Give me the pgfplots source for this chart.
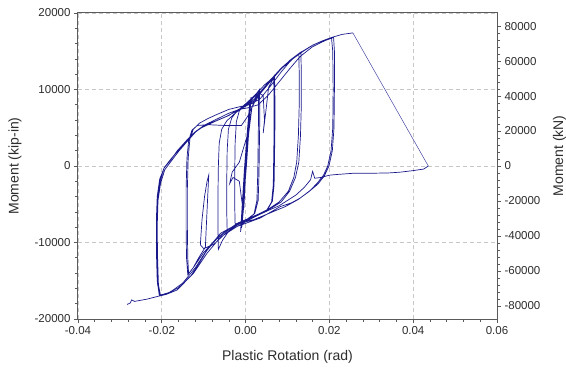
\documentclass[border=0pt]{standalone}
\usepackage{fontspec}
\setmainfont{Liberation Sans}
\usepackage{pgfplots}
\pgfplotsset{compat=1.18}
\definecolor{curve}{RGB}{25,25,140}
\definecolor{axisgray}{RGB}{90,90,90}
\definecolor{txt}{RGB}{45,45,45}
\definecolor{gridc}{RGB}{200,200,200}
\pgfplotsset{
  common/.style={
    scale only axis, width=419pt, height=306pt,
    xmin=-0.04, xmax=0.06,
    tick align=outside,
    major tick length=4pt, minor tick length=3pt,
    axis line style={axisgray, line width=1pt},
    every tick/.style={axisgray, line width=0.6pt},
    tick label style={font=\fontsize{11.5}{13}\selectfont, text=txt},
    label style={font=\fontsize{14}{16}\selectfont, text=txt},
    /pgf/number format/assume math mode=true,
    scaled x ticks=false, scaled y ticks=false,
    yticklabel style={/pgf/number format/1000 sep={}},
  }
}
\begin{document}
\begin{tikzpicture}
\begin{axis}[common,
  name=main,
  ymin=-20000, ymax=20000,
  xtick={-0.04,-0.02,0,0.02,0.04,0.06},
  ytick={-20000,-10000,0,10000,20000},
  minor x tick num=4, minor y tick num=4,
  xtick pos=bottom, ytick pos=left,
  grid=major,
  major grid style={gridc, dash pattern=on 4pt off 3pt, line width=0.6pt},
  xticklabel style={/pgf/number format/fixed, /pgf/number format/fixed zerofill, /pgf/number format/precision=2},
  xlabel={Plastic Rotation (rad)},
  ylabel={Moment (kip-in)},
  xlabel style={at={(axis description cs:0.5,-0.124)}, anchor=center},
  ylabel style={at={(axis description cs:-0.1504,0.5)}, anchor=center},
]
\addplot[curve, line width=0.7pt] coordinates {
(0,0) (0.0003,3000) (-0.0002,-3000) (0.0003,3200) (-0.0002,-3100)
(0.0006,5500) (-0.0004,-5500) (0.0006,5600) (-0.0005,-5600)
(-0.0009,-8000) (-0.0004,-4000) (0.0002,0) (0.0007,4000) (0.0011,8600)
(0.0006,5000) (0.0000,1000) (-0.0005,-3500) (-0.0010,-8100)
(-0.0006,-4500) (0.0001,0) (0.0007,4500) (0.0012,8800)
(0.0004,4000) (-0.0015,500) (-0.0032,-800) (-0.0038,-2300) (-0.0030,-1500) (-0.0015,-2000) (-0.0008,-5000) (-0.0010,-8000)
(-0.0005,-4000) (0.0003,1000) (0.0009,5500) (0.0013,9000)
(0.0007,5000) (-0.0001,0) (-0.0006,-4500) (-0.0012,-8600)
(-0.0007,-4000) (0.0000,500) (0.0006,5000) (0.0010,8400)
(0.0004,4500) (-0.0003,-500) (-0.0008,-5000) (-0.0011,-8300)
(-0.0007,-4000) (0.0000,0)
(0.0008,4500) (0.0015,7600) (0.0022,8800) (0.0031,9800)
(0.0031,7000) (0.0030,3000) (0.0029,-1000) (0.0027,-4500) (0.0020,-6300) (0.0005,-6900) (-0.0010,-7300) (-0.0025,-7700) (-0.0044,-8400)
(-0.0045,-6000) (-0.0045,-2000) (-0.0044,2000) (-0.0041,4800) (-0.0033,6300) (-0.0020,7200) (-0.0005,7900) (0.0012,8700) (0.0025,9400) (0.0033,10000)
(0.0034,7000) (0.0033,3000) (0.0032,-1000) (0.0030,-4500) (0.0022,-6200) (0.0005,-6900) (-0.0012,-7300) (-0.0025,-7600)
(-0.0026,-5000) (-0.0026,-1000) (-0.0025,3000) (-0.0022,5800) (-0.0015,7200) (0.0000,8100) (0.0015,8900)
(0.0030,9700) (0.0045,10600) (0.0058,11200) (0.0067,11700)
(0.0068,9000) (0.0068,5000) (0.0067,1000) (0.0066,-2500) (0.0062,-4700) (0.0050,-5800) (0.0030,-6400) (0.0005,-7000) (-0.0020,-7700) (-0.0040,-8500) (-0.0055,-9700) (-0.0065,-10900)
(-0.0066,-8000) (-0.0066,-4000) (-0.0065,0) (-0.0063,3000) (-0.0057,4800) (-0.0045,5900) (-0.0025,6900) (-0.0005,7700) (0.0015,8700) (0.0030,9600) (0.0042,9200) (0.0045,6000) (0.0042,4300) (0.0048,7000) (0.0055,10300) (0.0065,11300) (0.0069,11800)
(0.0070,9000) (0.0070,5000) (0.0069,1000) (0.0068,-2500) (0.0064,-4600) (0.0052,-5700) (0.0030,-6300) (0.0005,-6900) (-0.0025,-7800) (-0.0050,-8900) (-0.0075,-10200) (-0.0100,-10800) (-0.0108,-10300)
(-0.0104,-7000) (-0.0098,-4000) (-0.0092,-2000) (-0.0088,-1200) (-0.0090,-3500) (-0.0093,-7000) (-0.0096,-10600)
(-0.0112,-12000) (-0.0125,-13300) (-0.0138,-14200)
(-0.0141,-12000) (-0.0142,-8000) (-0.0142,-3000) (-0.0140,1000) (-0.0136,3300) (-0.0128,4700) (-0.0115,5300) (-0.0090,5400) (-0.0050,5300) (-0.0010,5300) (0.0005,6500) (0.0020,8200) (0.0040,9900) (0.0060,11200) (0.0085,12700) (0.0105,13800) (0.0127,14700)
(0.0128,12000) (0.0128,8000) (0.0126,4000) (0.0122,500) (0.0115,-1500) (0.0102,-3300) (0.0080,-4700) (0.0050,-5800) (0.0020,-6600) (-0.0010,-7300) (-0.0040,-8200) (-0.0070,-9500) (-0.0100,-11300) (-0.0125,-13300) (-0.0136,-14100)
(-0.0138,-12000) (-0.0139,-8000) (-0.0139,-3000) (-0.0137,1000) (-0.0133,3500) (-0.0125,4800) (-0.0110,5600) (-0.0090,6200) (-0.0070,6700) (-0.0040,7400) (-0.0010,7800) (0.0010,8000) (0.0035,8800) (0.0060,10500) (0.0085,12300) (0.0105,13600) (0.0122,14500) (0.0132,14900)
(0.0133,12000) (0.0133,8000) (0.0131,4000) (0.0127,500) (0.0119,-1500) (0.0105,-3300) (0.0085,-4700) (0.0050,-5900) (0.0020,-6700) (-0.0020,-7900) (-0.0060,-9300) (-0.0092,-11400) (-0.0124,-14000) (-0.0163,-16200) (-0.0190,-16800) (-0.0205,-16950)
(-0.0210,-15500) (-0.0212,-12000) (-0.0212,-8000) (-0.0210,-4500) (-0.0204,-2000) (-0.0195,-300) (-0.0180,700) (-0.0163,2000) (-0.0140,3400) (-0.0124,4300) (-0.0105,5000) (-0.0070,5900) (-0.0040,6600) (-0.0020,7300) (0.0000,7900) (0.0020,8700) (0.0040,10000) (0.0060,11300) (0.0085,12800) (0.0110,14000) (0.0130,14800) (0.0160,15800) (0.0185,16400) (0.0205,16750)
(0.0208,15000) (0.0209,10000) (0.0208,5000) (0.0204,2000) (0.0196,0) (0.0186,-1200) (0.0170,-2300) (0.0154,-3200) (0.0130,-4200) (0.0110,-4800) (0.0083,-5300) (0.0035,-6800) (-0.0020,-7900) (-0.0060,-9300) (-0.0092,-11400) (-0.0124,-14000) (-0.0163,-16200) (-0.0190,-16800) (-0.0203,-16950)
(-0.0208,-15500) (-0.0210,-12000) (-0.0211,-8000) (-0.0209,-4500) (-0.0203,-2300) (-0.0193,-500) (-0.0178,600) (-0.0160,1900) (-0.0138,3300) (-0.0120,4400) (-0.0100,5300) (-0.0070,6100) (-0.0040,6900) (-0.0015,7400) (0.0005,7600) (0.0030,8000) (0.0055,9300) (0.0080,11000) (0.0105,12700) (0.0130,14300) (0.0160,15600) (0.0190,16400) (0.0210,16800)
(0.0212,15000) (0.0212,10000) (0.0211,5000) (0.0207,2000) (0.0199,0) (0.0188,-1300) (0.0172,-2400) (0.0150,-3400) (0.0125,-4400) (0.0095,-5300) (0.0060,-6100) (0.0020,-7000) (-0.0020,-7600) (-0.0060,-8800) (-0.0090,-10800) (-0.0110,-12600) (-0.0130,-14300) (-0.0160,-15900) (-0.0185,-16600) (-0.0206,-16900)
(-0.0211,-15000) (-0.0213,-11000) (-0.0213,-7000) (-0.0211,-4000) (-0.0205,-1700) (-0.0194,-200) (-0.0180,800) (-0.0160,2100) (-0.0142,3200) (-0.0122,4400) (-0.0102,5200) (-0.0075,5800) (-0.0045,6500) (-0.0020,7200) (0.0000,7800) (0.0020,8500) (0.0040,9800) (0.0060,11100) (0.0085,12700) (0.0110,13900) (0.0135,14900) (0.0160,15800) (0.0185,16400) (0.0205,16800) (0.0230,17200) (0.0256,17400)
};
\addplot[curve!80, line width=0.5pt] coordinates {
(0.0256,17400) (0.0436,0)
};
\addplot[curve, line width=0.7pt] coordinates {
(0.0436,0) (0.0425,-400) (0.0400,-600) (0.0370,-800) (0.0344,-900) (0.0300,-950) (0.0257,-950) (0.0220,-1100) (0.0200,-1200) (0.0180,-1500) (0.0165,-1600) (0.0160,-700) (0.0155,-1800) (0.0140,-2800) (0.0120,-3800) (0.0100,-4500) (0.0080,-5200) (0.0050,-5900) (0.0020,-6600) (-0.0010,-7400) (-0.0040,-8300) (-0.0070,-9600) (-0.0095,-11200) (-0.0120,-13300) (-0.0150,-15300) (-0.0180,-16500) (-0.0203,-16950) (-0.0235,-17400) (-0.0265,-17700) (-0.0272,-17500) (-0.0275,-17900) (-0.0283,-18100)
};
\end{axis}
\begin{axis}[common,
  ymin=-87500, ymax=87500,
  axis x line=none, axis y line*=right,
  ytick={-80000,-60000,-40000,-20000,0,20000,40000,60000,80000},
  minor y tick num=4,
  ylabel={Moment (kN)},
  ylabel style={at={(axis description cs:1.149,0.533)}, anchor=center},
]
\end{axis}
\pgfresetboundingbox
\path ([shift={(-78pt,-51pt)}]main.south west) rectangle ([shift={(69pt,13pt)}]main.north east);
\end{tikzpicture}
\end{document}
